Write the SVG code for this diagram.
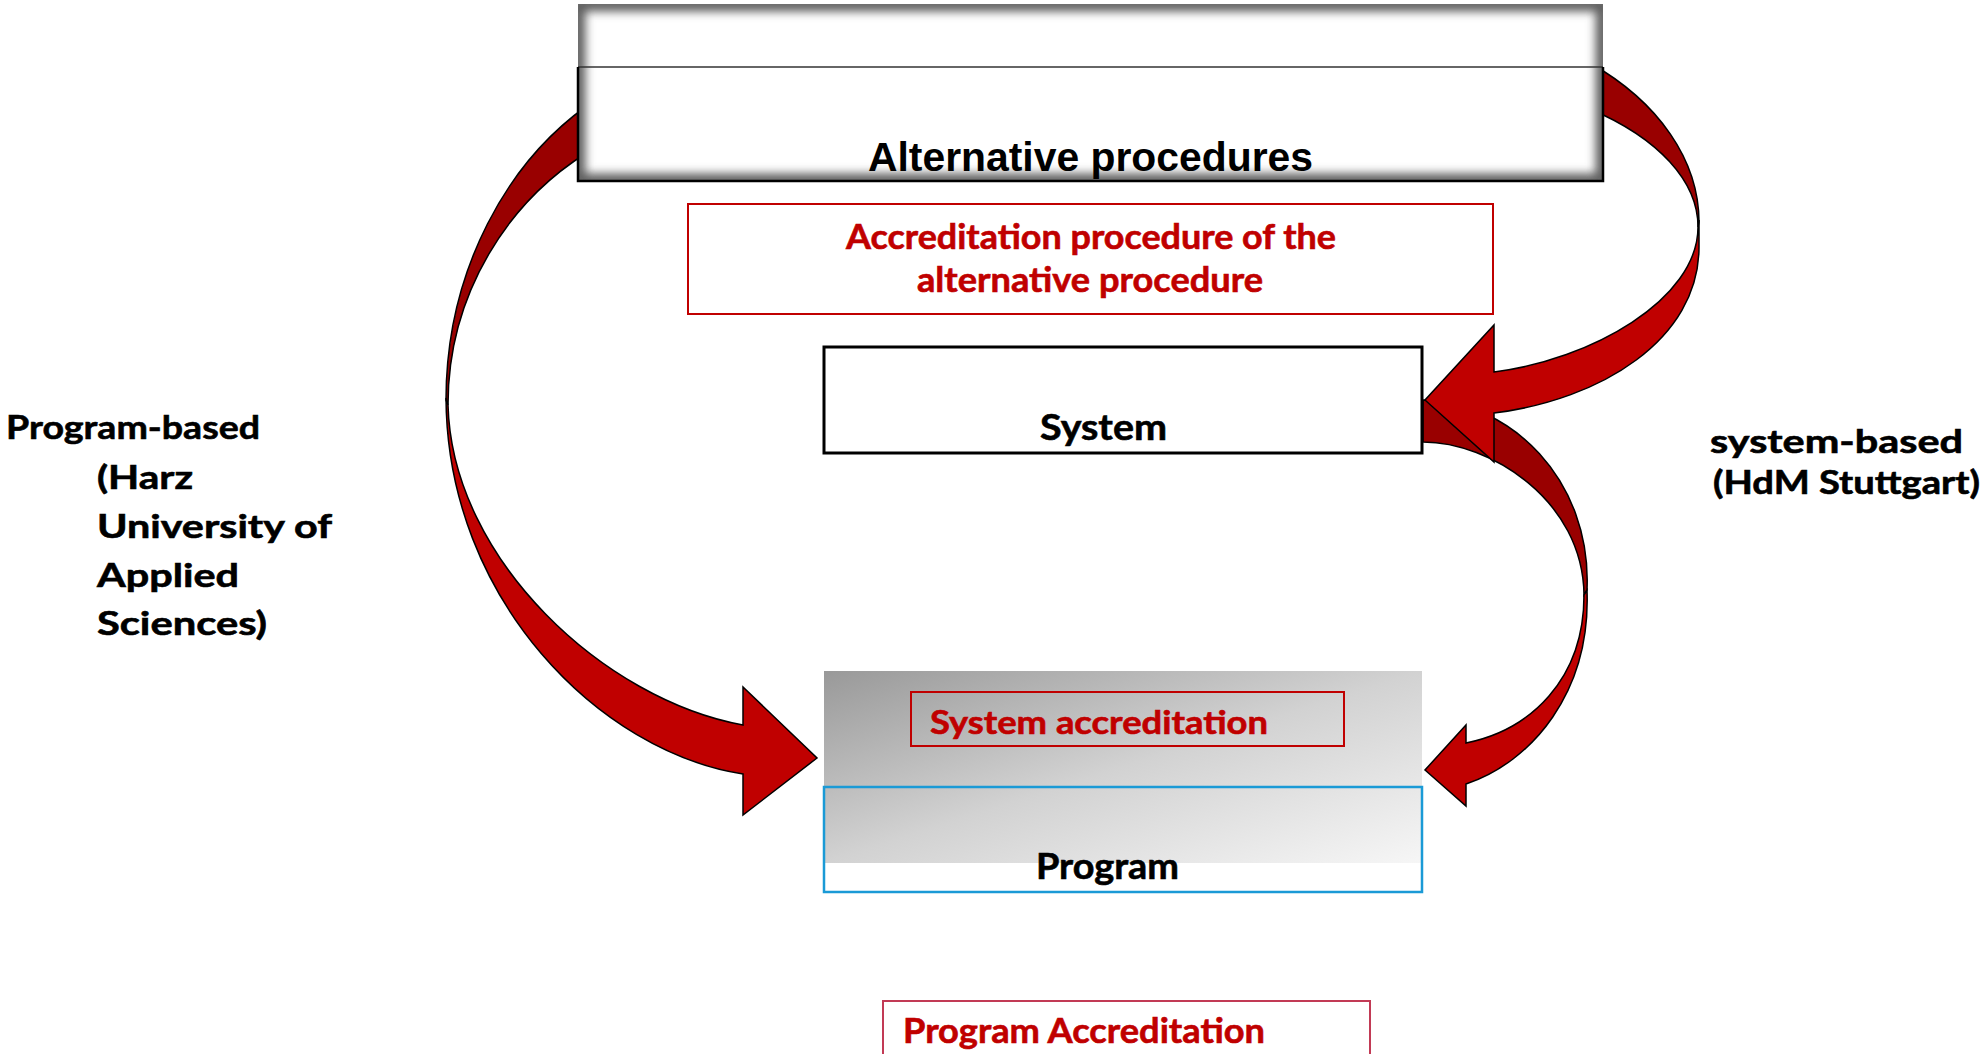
<svg xmlns="http://www.w3.org/2000/svg" width="1984" height="1054" viewBox="0 0 1984 1054">
<style>
.lbl{font-family:Lato,"Open Sans","Liberation Sans",sans-serif;font-weight:700;fill:#000;stroke:#000;stroke-width:0.6}
.red{font-family:Lato,"Open Sans","Liberation Sans",sans-serif;font-weight:700;fill:#c00000;stroke:#c00000;stroke-width:0.6}
.arial{font-family:"Liberation Sans",Arial,sans-serif;font-weight:700;fill:#000}
.back{fill:#990000;stroke:#000;stroke-width:1.5;stroke-linejoin:miter}
.front{fill:#c00000;stroke:#000;stroke-width:1.5;stroke-linejoin:miter}
.redbox{fill:none;stroke:#c00000;stroke-width:2}
</style>
<defs>
<clipPath id="altClip"><rect x="578" y="4" width="1025" height="177"/></clipPath>
<filter id="soft" x="-5%" y="-20%" width="110%" height="140%"><feGaussianBlur stdDeviation="5"/></filter>
<linearGradient id="grayGrad" x1="0" y1="0" x2="1" y2="1">
<stop offset="0" stop-color="#999999"/>
<stop offset="0.5" stop-color="#d2d2d2"/>
<stop offset="1" stop-color="#f6f6f6"/>
</linearGradient>
</defs>
<rect width="1984" height="1054" fill="#fff"/>

<g id="connectors">
<g id="arrow-program-based">
<path class="back" d="M 600 97 A 297 346 0 0 0 446 400 L 448 405 A 295 297 0 0 1 600 145 Z"/>
<path class="front" d="M 446 398 C 447 600 600 752 743 774 L 743 815 L 817 758 L 743 687 L 743 725 C 605 700 452 560 448 405 Z"/>
</g>
<g id="arrow-system-to-program">
<path class="back" d="M 1423 400 C 1510 400 1592 480 1587 590 L 1584 595 C 1583 500 1490 442 1423 442 Z"/>
<path class="front" d="M 1587 590 C 1591 692 1532 762 1466 784 L 1466 806 L 1425 770 L 1466 725 L 1466 743 C 1530 730 1584 680 1584 595 Z"/>
</g>
<g id="arrow-alt-to-system">
<path class="back" d="M 1590 63 A 299 206 0 0 1 1699 222 L 1698 227 A 298 153 0 0 0 1590 109 Z"/>
<path class="front" d="M 1699 220 L 1699 247 C 1699 340 1600 400 1494 413 L 1494 462 L 1425 400 L 1494 325 L 1494 372 C 1590 360 1698 300 1698 227 Z"/>
</g>
</g>

<g id="alternative-procedures">
<rect x="578" y="4" width="1025" height="177" fill="#fff"/>
<g clip-path="url(#altClip)">
<rect x="578" y="4" width="1025" height="177" fill="none" stroke="#5e5e5e" stroke-width="15" filter="url(#soft)"/>
</g>
<line x1="578" y1="67" x2="1603" y2="67" stroke="#333" stroke-width="1.5"/>
<path d="M 578 67 V 181 H 1603 V 67" fill="none" stroke="#000" stroke-width="2.5"/>
<text class="arial" x="868" y="171" font-size="40" textLength="445" lengthAdjust="spacingAndGlyphs">Alternative procedures</text>
</g>

<g id="accreditation-alternative">
<rect class="redbox" x="688" y="204" width="805" height="110"/>
<text class="red" x="846" y="249" font-size="34" textLength="490" lengthAdjust="spacingAndGlyphs">Accreditation procedure of the</text>
<text class="red" x="917" y="292" font-size="34" textLength="346" lengthAdjust="spacingAndGlyphs">alternative procedure</text>
</g>

<g id="system">
<rect x="824" y="347" width="598" height="106" fill="#fff" stroke="#000" stroke-width="3"/>
<text class="lbl" x="1040" y="440" font-size="37" textLength="127" lengthAdjust="spacingAndGlyphs">System</text>
</g>

<g id="program">
<rect x="824" y="671" width="598" height="192" fill="url(#grayGrad)"/>
<rect x="824" y="787" width="598" height="105" fill="none" stroke="#1a9ad6" stroke-width="2.5"/>
<text class="lbl" x="1036" y="879" font-size="36" textLength="143" lengthAdjust="spacingAndGlyphs">Program</text>
</g>

<g id="system-accreditation">
<rect class="redbox" x="911" y="692" width="433" height="54"/>
<text class="red" x="930" y="734" font-size="32" textLength="338" lengthAdjust="spacingAndGlyphs">System accreditation</text>
</g>

<g id="program-accreditation">
<rect x="883" y="1001" width="487" height="60" fill="none" stroke="#c23a55" stroke-width="2"/>
<text class="red" x="903" y="1043" font-size="35" textLength="362" lengthAdjust="spacingAndGlyphs">Program Accreditation</text>
</g>

<g id="label-program-based">
<text class="lbl" x="6" y="439" font-size="33" textLength="254" lengthAdjust="spacingAndGlyphs">Program-based</text>
<text class="lbl" x="97" y="489" font-size="33" textLength="96" lengthAdjust="spacingAndGlyphs">(Harz</text>
<text class="lbl" x="97" y="538" font-size="33" textLength="235" lengthAdjust="spacingAndGlyphs">University of</text>
<text class="lbl" x="97" y="587" font-size="33" textLength="142" lengthAdjust="spacingAndGlyphs">Applied</text>
<text class="lbl" x="97" y="635" font-size="33" textLength="170" lengthAdjust="spacingAndGlyphs">Sciences)</text>
</g>

<g id="label-system-based">
<text class="lbl" x="1710" y="453" font-size="33" textLength="253" lengthAdjust="spacingAndGlyphs">system-based</text>
<text class="lbl" x="1713" y="494" font-size="33" textLength="267" lengthAdjust="spacingAndGlyphs">(HdM Stuttgart)</text>
</g>
</svg>
